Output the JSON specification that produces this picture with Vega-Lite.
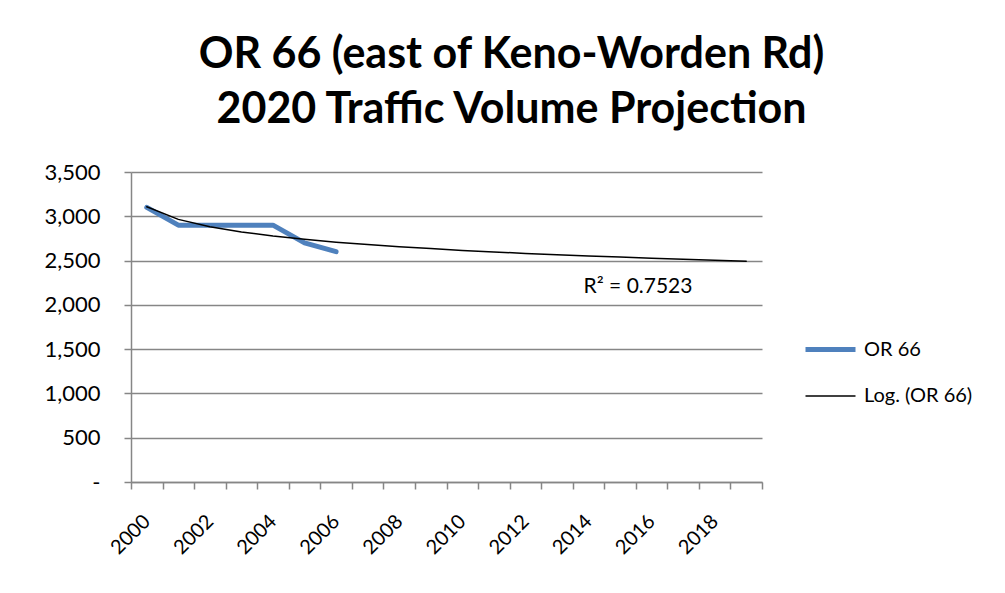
{
  "$schema": "https://vega.github.io/schema/vega-lite/v6.json",
  "width": 631,
  "height": 310,
  "autosize": {"type": "none"},
  "padding": {"left": 131, "top": 172, "right": 243, "bottom": 111},
  "background": "white",
  "config": {
    "view": {"stroke": null},
    "font": "Lato",
    "axis": {"labelFont": "Lato", "labelColor": "#000000", "labelFontSize": 20, "domainColor": "#868686", "tickColor": "#868686", "gridColor": "#868686", "title": null}
  },
  "title": {
    "text": ["OR 66 (east of Keno-Worden Rd)", "2020 Traffic Volume Projection"],
    "font": "Lato",
    "fontSize": 43,
    "fontWeight": "bold",
    "color": "#000000",
    "anchor": "middle",
    "dx": 65,
    "offset": 29,
    "lineHeight": 55
  },
  "resolve": {"axis": {"x": "independent"}},
  "layer": [
    {
      "data": {
        "values": [
          {"year": 2000, "value": 3100, "series": "OR 66"},
          {"year": 2001, "value": 2900, "series": "OR 66"},
          {"year": 2002, "value": 2900, "series": "OR 66"},
          {"year": 2003, "value": 2900, "series": "OR 66"},
          {"year": 2004, "value": 2900, "series": "OR 66"},
          {"year": 2005, "value": 2700, "series": "OR 66"},
          {"year": 2006, "value": 2600, "series": "OR 66"},
          {"year": 2000, "value": 3107, "series": "Log. (OR 66)"},
          {"year": 2001, "value": 2965, "series": "Log. (OR 66)"},
          {"year": 2002, "value": 2882, "series": "Log. (OR 66)"},
          {"year": 2003, "value": 2823, "series": "Log. (OR 66)"},
          {"year": 2004, "value": 2777, "series": "Log. (OR 66)"},
          {"year": 2005, "value": 2740, "series": "Log. (OR 66)"},
          {"year": 2006, "value": 2708, "series": "Log. (OR 66)"},
          {"year": 2007, "value": 2681, "series": "Log. (OR 66)"},
          {"year": 2008, "value": 2657, "series": "Log. (OR 66)"},
          {"year": 2009, "value": 2635, "series": "Log. (OR 66)"},
          {"year": 2010, "value": 2615, "series": "Log. (OR 66)"},
          {"year": 2011, "value": 2598, "series": "Log. (OR 66)"},
          {"year": 2012, "value": 2581, "series": "Log. (OR 66)"},
          {"year": 2013, "value": 2566, "series": "Log. (OR 66)"},
          {"year": 2014, "value": 2552, "series": "Log. (OR 66)"},
          {"year": 2015, "value": 2539, "series": "Log. (OR 66)"},
          {"year": 2016, "value": 2526, "series": "Log. (OR 66)"},
          {"year": 2017, "value": 2515, "series": "Log. (OR 66)"},
          {"year": 2018, "value": 2503, "series": "Log. (OR 66)"},
          {"year": 2019, "value": 2493, "series": "Log. (OR 66)"}
        ]
      },
      "mark": {"type": "line", "strokeCap": "round", "strokeJoin": "round"},
      "encoding": {
        "x": {
          "field": "year", "type": "quantitative",
          "scale": {"domain": [1999.5, 2019.5], "nice": false, "zero": false},
          "axis": {
            "orient": "bottom",
            "values": [1999.5, 2000.5, 2001.5, 2002.5, 2003.5, 2004.5, 2005.5, 2006.5, 2007.5, 2008.5, 2009.5, 2010.5, 2011.5, 2012.5, 2013.5, 2014.5, 2015.5, 2016.5, 2017.5, 2018.5, 2019.5],
            "labels": false, "grid": false, "tickSize": 7, "domainWidth": 1.5, "tickWidth": 1.5
          }
        },
        "y": {
          "field": "value", "type": "quantitative",
          "scale": {"domain": [0, 3500], "nice": false},
          "axis": {
            "values": [0, 500, 1000, 1500, 2000, 2500, 3000, 3500],
            "labelExpr": "datum.value === 0 ? '-' : format(datum.value, ',')",
            "labelFontSize": 22,
            "grid": true, "gridWidth": 1.5, "tickSize": 7, "tickWidth": 1.5, "domainWidth": 1.5, "labelPadding": 24
          }
        },
        "color": {
          "field": "series", "type": "nominal",
          "scale": {"domain": ["OR 66", "Log. (OR 66)"], "range": ["#4F81BD", "#000000"]},
          "legend": {
            "orient": "none", "legendX": 672, "legendY": 150, "title": null,
            "symbolType": "stroke", "symbolSize": 2500, "labelFontSize": 20, "labelFont": "Lato",
            "labelColor": "#000000", "rowPadding": 10, "labelOffset": 6
          }
        },
        "strokeWidth": {
          "field": "series", "type": "nominal",
          "scale": {"domain": ["OR 66", "Log. (OR 66)"], "range": [5, 1.5]},
          "legend": {
            "orient": "none", "legendX": 672, "legendY": 150, "title": null,
            "symbolType": "stroke", "symbolSize": 2500, "labelFontSize": 20, "labelFont": "Lato",
            "labelColor": "#000000", "rowPadding": 10, "labelOffset": 6
          }
        },
        "order": {"field": "year", "type": "quantitative"}
      }
    },
    {
      "data": {"values": [{"year": 2015.57, "value": 2200, "label": "R² = 0.7523"}]},
      "mark": {"type": "text", "fontSize": 21, "font": "Lato", "color": "#000000", "align": "center", "baseline": "middle"},
      "encoding": {
        "x": {
          "field": "year", "type": "quantitative",
          "axis": {
            "orient": "bottom",
            "values": [2000, 2002, 2004, 2006, 2008, 2010, 2012, 2014, 2016, 2018],
            "format": "d", "ticks": false, "domain": false, "grid": false,
            "labelAngle": -45, "labelAlign": "right", "labelBaseline": "middle", "labelPadding": 36
          }
        },
        "y": {
          "field": "value", "type": "quantitative",
          "axis": {
            "values": [0, 500, 1000, 1500, 2000, 2500, 3000, 3500],
            "labelExpr": "datum.value === 0 ? '-' : format(datum.value, ',')",
            "labelFontSize": 22,
            "grid": true, "gridWidth": 1.5, "tickSize": 7, "tickWidth": 1.5, "domainWidth": 1.5, "labelPadding": 24
          }
        },
        "text": {"field": "label"}
      }
    }
  ]
}
